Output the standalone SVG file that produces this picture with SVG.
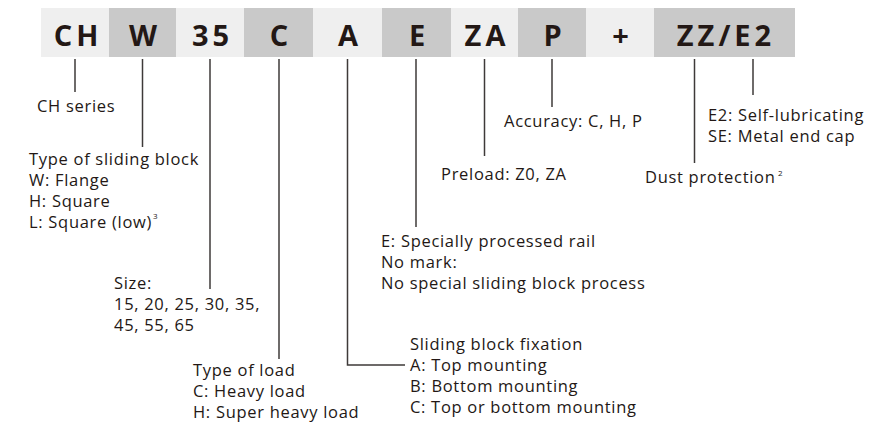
<svg xmlns="http://www.w3.org/2000/svg" width="884" height="423" viewBox="0 0 884 423">
<style>
.lt{fill:#efefef}
.dk{fill:#c9c9c9}
.code{font-family:"Open Sans","Noto Sans",sans-serif;font-weight:700;font-size:29px;fill:#231815;text-anchor:middle;letter-spacing:4px}
.t{font-family:"Open Sans","Noto Sans",sans-serif;font-size:16.5px;fill:#231815;letter-spacing:0.7px}
.sup{font-family:"Open Sans","Noto Sans",sans-serif;font-size:8px;fill:#231815}
.ln{stroke:#3e3a39;stroke-width:1.5;fill:none}
</style>
<rect width="884" height="423" fill="#ffffff"/>
<g id="codes">
<g id="n-ch"><rect class="lt" x="41" y="8" width="68" height="49"/><text class="code" x="78" y="46">CH</text></g>
<g id="n-w"><rect class="dk" x="109" y="8" width="67" height="49"/><text class="code" x="145" y="46">W</text></g>
<g id="n-35"><rect class="lt" x="176" y="8" width="68" height="49"/><text class="code" x="212.5" y="46">35</text></g>
<g id="n-c"><rect class="dk" x="244" y="8" width="69" height="49"/><text class="code" x="281" y="46">C</text></g>
<g id="n-a"><rect class="lt" x="313" y="8" width="69" height="49"/><text class="code" x="350" y="46">A</text></g>
<g id="n-e"><rect class="dk" x="382" y="8" width="69" height="49"/><text class="code" x="419" y="46">E</text></g>
<g id="n-za"><rect class="lt" x="451" y="8" width="67" height="49"/><text class="code" x="487" y="46">ZA</text></g>
<g id="n-p"><rect class="dk" x="518" y="8" width="68" height="49"/><text class="code" x="554.5" y="46">P</text></g>
<g id="n-plus"><rect class="lt" x="586" y="8" width="68" height="49"/><text class="code" x="622.5" y="46">+</text></g>
<g id="n-zz"><rect class="dk" x="654" y="8" width="141" height="49"/><text class="code" x="726" y="46">ZZ/E2</text></g>
</g>
<g id="connectors">
<line class="ln" x1="75" y1="59" x2="75" y2="92"/>
<line class="ln" x1="142.5" y1="59" x2="142.5" y2="147"/>
<line class="ln" x1="210" y1="59" x2="210" y2="289"/>
<line class="ln" x1="279" y1="59" x2="279" y2="359"/>
<polyline class="ln" points="347.5,59 347.5,365 405,365"/>
<line class="ln" x1="416" y1="59" x2="416" y2="227"/>
<line class="ln" x1="484.5" y1="59" x2="484.5" y2="156"/>
<line class="ln" x1="552" y1="59" x2="552" y2="107"/>
<line class="ln" x1="694.5" y1="59" x2="694.5" y2="163"/>
<line class="ln" x1="753" y1="59" x2="753" y2="95"/>
</g>
<g id="l-ch"><text class="t" x="37" y="112">CH series</text></g>
<g id="l-w">
<text class="t" x="29" y="165">Type of sliding block</text>
<text class="t" x="29" y="186">W: Flange</text>
<text class="t" x="29" y="207">H: Square</text>
<text class="t" x="29" y="228">L: Square (low)</text>
<text class="sup" x="153" y="219">3</text>
</g>
<g id="l-35">
<text class="t" x="114" y="289">Size:</text>
<text class="t" x="114" y="310">15, 20, 25, 30, 35,</text>
<text class="t" x="114" y="331">45, 55, 65</text>
</g>
<g id="l-c">
<text class="t" x="193" y="376">Type of load</text>
<text class="t" x="193" y="397">C: Heavy load</text>
<text class="t" x="193" y="418">H: Super heavy load</text>
</g>
<g id="l-a">
<text class="t" x="410" y="350">Sliding block fixation</text>
<text class="t" x="410" y="371">A: Top mounting</text>
<text class="t" x="410" y="392">B: Bottom mounting</text>
<text class="t" x="410" y="413">C: Top or bottom mounting</text>
</g>
<g id="l-e">
<text class="t" x="381" y="247">E: Specially processed rail</text>
<text class="t" x="381" y="268">No mark:</text>
<text class="t" x="381" y="289">No special sliding block process</text>
</g>
<g id="l-za"><text class="t" x="441" y="180">Preload: Z0, ZA</text></g>
<g id="l-p"><text class="t" x="504" y="127">Accuracy: C, H, P</text></g>
<g id="l-zz"><text class="t" x="645" y="183">Dust protection</text><text class="sup" x="778" y="176">2</text></g>
<g id="l-e2">
<text class="t" x="708" y="121">E2: Self-lubricating</text>
<text class="t" x="708" y="142">SE: Metal end cap</text>
</g>
</svg>
